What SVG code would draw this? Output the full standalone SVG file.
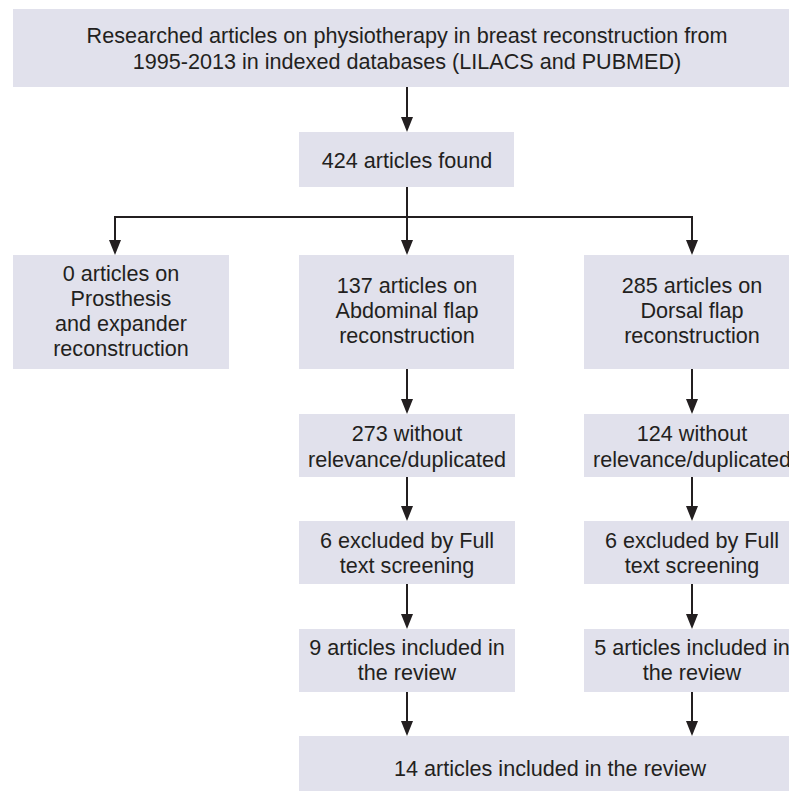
<svg xmlns="http://www.w3.org/2000/svg" width="789" height="793" viewBox="0 0 789 793">
<style>
.box{fill:#e1e1ec}
.t{font-family:"Liberation Sans",Arial,Helvetica,sans-serif;font-size:21.6px;fill:#231f20;text-anchor:middle}
.c{fill:none;stroke:#231f20;stroke-width:2}
</style>
<defs>
<marker id="ah" viewBox="0 -6 15 12" refX="1" refY="0" markerWidth="15" markerHeight="12" markerUnits="userSpaceOnUse" orient="auto">
<path d="M0,-6 L15,0 L0,6 z" fill="#231f20"/>
</marker>
</defs>
<rect width="789" height="793" fill="#ffffff"/>
<g id="connectors">
<path class="c" d="M407,87 V118" marker-end="url(#ah)"/>
<path class="c" d="M407,187 V241" marker-end="url(#ah)"/>
<path class="c" d="M115,217 H692"/>
<path class="c" d="M115,216 V241" marker-end="url(#ah)"/>
<path class="c" d="M692,216 V241" marker-end="url(#ah)"/>
<path class="c" d="M407,369 V400" marker-end="url(#ah)"/>
<path class="c" d="M692,369 V400" marker-end="url(#ah)"/>
<path class="c" d="M407,477 V507" marker-end="url(#ah)"/>
<path class="c" d="M692,477 V507" marker-end="url(#ah)"/>
<path class="c" d="M407,584 V615" marker-end="url(#ah)"/>
<path class="c" d="M692,584 V615" marker-end="url(#ah)"/>
<path class="c" d="M407,692 V722" marker-end="url(#ah)"/>
<path class="c" d="M692,692 V722" marker-end="url(#ah)"/>
</g>
<g id="n-search">
<rect class="box" x="13" y="9" width="790" height="78"/>
<text class="t" x="407" y="43">Researched articles on physiotherapy in breast reconstruction from</text>
<text class="t" x="407" y="69">1995-2013 in indexed databases (LILACS and PUBMED)</text>
</g>
<g id="n-found">
<rect class="box" x="299" y="132" width="215" height="55"/>
<text class="t" x="407" y="168">424 articles found</text>
</g>
<g id="n-prosthesis">
<rect class="box" x="13" y="255" width="216" height="114"/>
<text class="t" x="121" y="281">0 articles on</text>
<text class="t" x="121" y="306">Prosthesis</text>
<text class="t" x="121" y="331">and expander</text>
<text class="t" x="121" y="356">reconstruction</text>
</g>
<g id="n-abdominal">
<rect class="box" x="299" y="255" width="215" height="114"/>
<text class="t" x="407" y="293">137 articles on</text>
<text class="t" x="407" y="318">Abdominal flap</text>
<text class="t" x="407" y="343">reconstruction</text>
</g>
<g id="n-dorsal">
<rect class="box" x="584" y="255" width="215" height="114"/>
<text class="t" x="692" y="293">285 articles on</text>
<text class="t" x="692" y="318">Dorsal flap</text>
<text class="t" x="692" y="343">reconstruction</text>
</g>
<g id="n-abd-irrelevant">
<rect class="box" x="299" y="414" width="216" height="63"/>
<text class="t" x="407" y="441">273 without</text>
<text class="t" x="407" y="467">relevance/duplicated</text>
</g>
<g id="n-dor-irrelevant">
<rect class="box" x="584" y="414" width="215" height="63"/>
<text class="t" x="692" y="441">124 without</text>
<text class="t" x="692" y="467">relevance/duplicated</text>
</g>
<g id="n-abd-excluded">
<rect class="box" x="299" y="521" width="216" height="63"/>
<text class="t" x="407" y="548">6 excluded by Full</text>
<text class="t" x="407" y="573">text screening</text>
</g>
<g id="n-dor-excluded">
<rect class="box" x="584" y="521" width="215" height="63"/>
<text class="t" x="692" y="548">6 excluded by Full</text>
<text class="t" x="692" y="573">text screening</text>
</g>
<g id="n-abd-included">
<rect class="box" x="299" y="629" width="216" height="63"/>
<text class="t" x="407" y="655">9 articles included in</text>
<text class="t" x="407" y="680">the review</text>
</g>
<g id="n-dor-included">
<rect class="box" x="584" y="629" width="215" height="63"/>
<text class="t" x="692" y="655">5 articles included in</text>
<text class="t" x="692" y="680">the review</text>
</g>
<g id="n-total">
<rect class="box" x="299" y="736" width="500" height="55"/>
<text class="t" x="550" y="776">14 articles included in the review</text>
</g>
</svg>
